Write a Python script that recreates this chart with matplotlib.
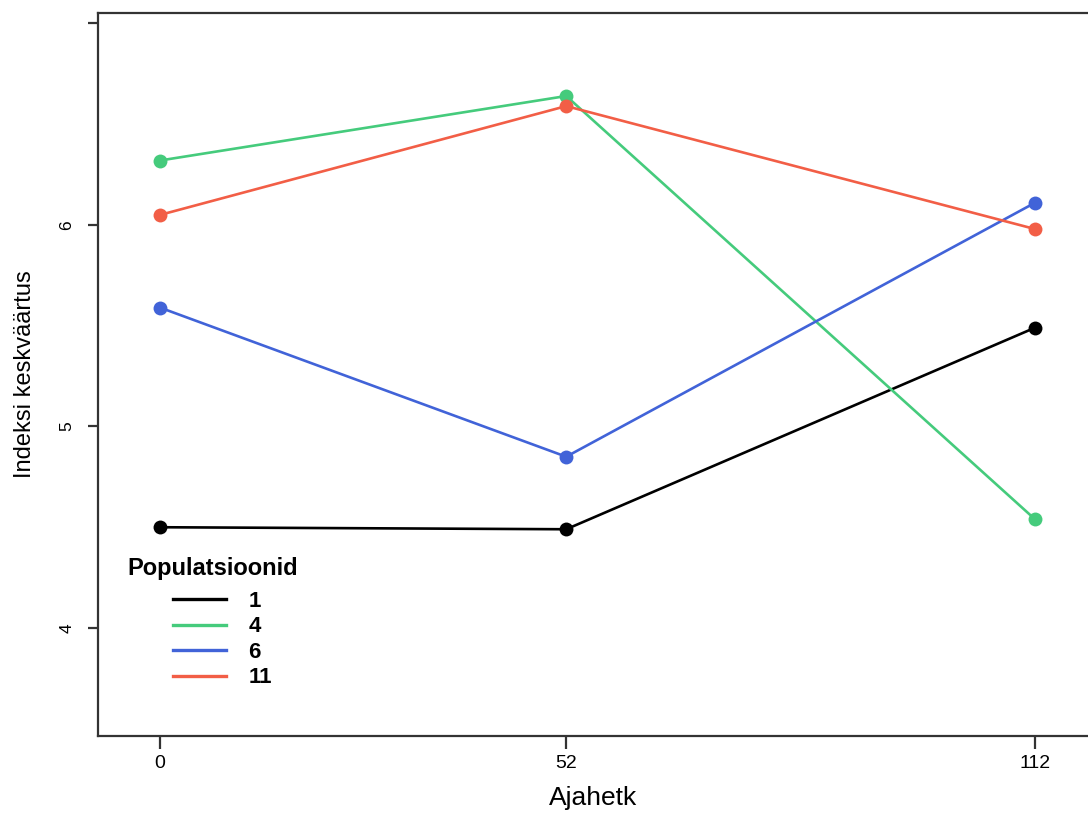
import matplotlib
matplotlib.use("Agg")
import matplotlib.pyplot as plt
from matplotlib.lines import Line2D

plt.rcParams['font.family'] = ['Liberation Sans', 'DejaVu Sans']

timepoints = [0, 52, 112]
populations = ["1", "4", "6", "11"]
values = {
    "1":  [4.50, 4.49, 5.49],
    "4":  [6.32, 6.64, 4.54],
    "6":  [5.59, 4.85, 6.11],
    "11": [6.05, 6.59, 5.98],
}
colors = {"1": "#000000", "4": "#45CB7C", "6": "#4163D8", "11": "#F25E46"}
ytick_vals = [4, 5, 6, 7]
ytick_labels = ["4", "5", "6", ""]

fig = plt.figure(figsize=(10.88, 8.14), dpi=100)
ax = fig.add_axes([98/1088, 1-736/814, 1-98/1088, (736-13)/814])

for p in populations:
    ax.plot(timepoints, values[p], color=colors[p], lw=1.9, marker='o',
            markersize=10, markeredgewidth=0, solid_capstyle='round')

ax.set_xlim(-7.94, 118.8)
ax.set_ylim(3.464, 7.052)
ax.set_xticks(timepoints)
ax.set_xticklabels([str(t) for t in timepoints], fontsize=14)
ax.set_yticks(ytick_vals)
ax.set_yticklabels(ytick_labels, fontsize=12.5, rotation=90, va='center')
ax.tick_params(axis='x', length=9, width=1.6, color='#333333', pad=5)
ax.tick_params(axis='y', length=7, width=1.6, color='#333333', pad=10)
for s in ['left', 'bottom', 'top']:
    ax.spines[s].set_color('#333333')
    ax.spines[s].set_linewidth(1.6)
ax.spines['right'].set_visible(False)

ax.set_xlabel("Ajahetk", fontsize=19, labelpad=10)
ax.set_ylabel("Indeksi keskväärtus", fontsize=17, labelpad=17)

handles = [Line2D([], [], color=colors[p], lw=2.4) for p in populations]
leg = ax.legend(handles, populations, loc='upper left',
                bbox_to_anchor=(173/1088, 1-591/814), bbox_transform=fig.transFigure,
                frameon=False, handlelength=2.4, handletextpad=1.0,
                labelspacing=0.2, borderpad=0, borderaxespad=0,
                prop={'weight': 'bold', 'size': 16})
fig.text(127/1088, 1-569/814, "Populatsioonid", fontsize=17, fontweight='bold',
         va='center', ha='left')

fig.savefig("out.png", dpi=100)
